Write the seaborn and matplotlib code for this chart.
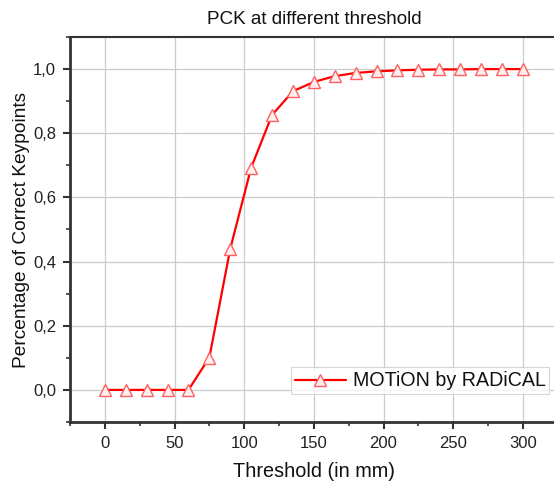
import numpy as np
import pandas as pd
import matplotlib
matplotlib.use("Agg")
import matplotlib.pyplot as plt
import seaborn as sns
from matplotlib.ticker import MultipleLocator, FuncFormatter

thresholds = [0, 15, 30, 45, 60, 75, 90, 105, 120, 135, 150, 165, 180, 195, 210, 225, 240, 255, 270, 285, 300]
pck = [0.0, 0.0, 0.0, 0.0, 0.0, 0.101, 0.44, 0.693, 0.857, 0.931, 0.960, 0.978, 0.988, 0.993, 0.996, 0.998, 0.999, 0.999, 1.0, 1.0, 1.0]
series_name = "MOTiON by RADiCAL"

sns.set_theme(style="white")
plt.rcParams['font.family'] = ['Liberation Sans', 'DejaVu Sans']

df = pd.DataFrame({"Threshold": thresholds, "PCK": pck})

fig = plt.figure(figsize=(5.54, 4.83), dpi=100)
ax = fig.add_axes([0.1264, 0.1263, 0.8803, 0.7971])

sns.lineplot(data=df, x="Threshold", y="PCK", ax=ax, color="#ff0000", linewidth=1.6,
             marker="^", markersize=8, markerfacecolor="#fff0f0", markeredgecolor="#ff6060",
             markeredgewidth=1.0, label=series_name)

ax.set_xlim(-25, 325)
ax.set_ylim(-0.1, 1.1)
ax.xaxis.set_major_locator(MultipleLocator(50))
ax.xaxis.set_minor_locator(MultipleLocator(25))
ax.yaxis.set_major_locator(MultipleLocator(0.2))
ax.yaxis.set_minor_locator(MultipleLocator(0.1))
ax.yaxis.set_major_formatter(FuncFormatter(lambda v, p: f"{v:.1f}".replace(".", ",").replace("-0,0", "0,0")))
ax.grid(True, which="major", color="#cccccc", linewidth=0.9)
ax.set_axisbelow(True)

for s in ax.spines.values():
    s.set_color("#333333")
ax.spines["left"].set_linewidth(2.0)
ax.spines["bottom"].set_linewidth(2.0)
ax.spines["top"].set_linewidth(1.5)
ax.spines["right"].set_linewidth(1.5)

ax.tick_params(which="major", direction="out", length=5, width=1.5, color="#333333",
               labelsize=12, bottom=True, left=True, pad=5, labelcolor="#222222")
ax.tick_params(which="minor", direction="out", length=3, width=1.2, color="#333333",
               bottom=True, left=True)

ax.set_xlabel("Threshold (in mm)", fontsize=14.3, labelpad=8, color="#111111")
ax.set_ylabel("Percentage of Correct Keypoints", fontsize=13.8, labelpad=2, color="#111111")
ax.set_title("PCK at different threshold", fontsize=13.6, pad=9, color="#111111")

leg = ax.legend(loc="lower right", bbox_to_anchor=(0.983, 0.072), fontsize=14.1,
                frameon=True, fancybox=False, edgecolor="#cccccc", handlelength=2.6,
                borderpad=0.2, handletextpad=0.35, borderaxespad=0.0)
leg.get_frame().set_linewidth(0.8)
for t in leg.get_texts():
    t.set_color("#111111")

fig.savefig("out.png", dpi=100)
